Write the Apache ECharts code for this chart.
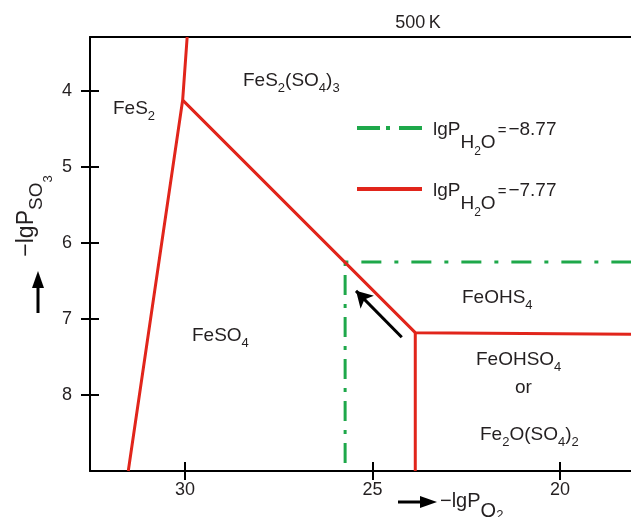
<!DOCTYPE html>
<html>
<head>
<meta charset="utf-8">
<script src="https://cdn.jsdelivr.net/npm/echarts@6/dist/echarts.min.js"></script>
<style>
  html, body { margin: 0; padding: 0; background: #fff; }
  #chart { width: 631px; height: 517px; }
</style>
</head>
<body>
<div id="chart"></div>
<script>
// axis ranges (-lgPO2 runs right to left, -lgPSO3 runs downward)
var xRange = [18.11, 32.53];
var yRange = [3.29, 9.0];
var xTicks = [20, 25, 30];
var yTicks = [4, 5, 6, 7, 8];

// boundaries for lgPH2O = -7.77 (red)
var redFeS2 = [[29.94, 3.29], [30.06, 4.12], [31.51, 9.0]];
var redSulfate = [[30.06, 4.12], [23.86, 7.18], [18.11, 7.2]];
var redHydroxy = [[23.86, 7.18], [23.86, 9.0]];

// boundaries for lgPH2O = -8.77 (green)
var greenHoriz = [[25.75, 6.25], [18.11, 6.25]];
var greenVert = [[25.73, 6.25], [25.73, 9.0]];

// shift arrow
var shiftArrow = [[24.22, 7.24], [25.44, 6.63]];

var RED = "#e1251b";
var GREEN = "#1ea84a";
var INK = "#231f20";
var FONT = "Liberation Sans";

var nameRed = "lgPH2O=-7.77";
var nameGreen = "lgPH2O=-8.77";

var chartDom = document.getElementById("chart");
var myChart = echarts.init(chartDom);
var option;

function lineSeries(name, data, color, type) {
  return {
    name: name,
    type: "line",
    data: data,
    symbol: "none",
    silent: true,
    animation: false,
    lineStyle: { color: color, width: 3, type: type || "solid" },
    itemStyle: { color: color },
  };
}

// rich styles for region labels
var labelRich = {
  m: { fontSize: 19, lineHeight: 20, verticalAlign: "top", fontFamily: FONT, fill: INK },
  s: { fontSize: 13, lineHeight: 13, verticalAlign: "top", padding: [11, 0, 0, 0], fontFamily: FONT, fill: INK },
};

function regionLabel(text, x, y) {
  return {
    type: "text",
    x: x,
    y: y,
    silent: true,
    style: { text: text, rich: labelRich, fill: INK, font: "19px " + FONT },
  };
}

option = {
  animation: false,
  grid: { left: 90, top: 37, right: 0, bottom: 46 },
  xAxis: [
    {
      type: "value",
      inverse: true,
      min: xRange[0],
      max: xRange[1],
      position: "bottom",
      axisLine: { show: true, onZero: false, lineStyle: { color: "#000", width: 2 } },
      axisTick: { show: true, length: 9, customValues: xTicks, lineStyle: { color: "#000", width: 2 } },
      axisLabel: { customValues: xTicks, margin: 10, color: INK, fontSize: 18, fontFamily: FONT },
      splitLine: { show: false },
    },
    {
      type: "value",
      inverse: true,
      min: xRange[0],
      max: xRange[1],
      position: "bottom",
      offset: 0,
      axisLine: { show: false, onZero: false },
      axisTick: { show: true, inside: true, length: 9, customValues: xTicks, lineStyle: { color: "#000", width: 2 } },
      axisLabel: { show: false },
      splitLine: { show: false },
    },
    {
      type: "value",
      inverse: true,
      min: xRange[0],
      max: xRange[1],
      position: "top",
      axisLine: { show: true, onZero: false, lineStyle: { color: "#000", width: 2 } },
      axisTick: { show: false },
      axisLabel: { show: false },
      splitLine: { show: false },
    },
  ],
  yAxis: [
    {
      type: "value",
      inverse: true,
      min: yRange[0],
      max: yRange[1],
      position: "left",
      axisLine: { show: true, onZero: false, lineStyle: { color: "#000", width: 2 } },
      axisTick: { show: true, length: 9, customValues: yTicks, lineStyle: { color: "#000", width: 2 } },
      axisLabel: { customValues: yTicks, margin: 18, color: INK, fontSize: 18, fontFamily: FONT },
      splitLine: { show: false },
    },
    {
      type: "value",
      inverse: true,
      min: yRange[0],
      max: yRange[1],
      position: "left",
      offset: 0,
      axisLine: { show: false, onZero: false },
      axisTick: { show: true, inside: true, length: 9, customValues: yTicks, lineStyle: { color: "#000", width: 2 } },
      axisLabel: { show: false },
      splitLine: { show: false },
    },
  ],
  legend: {
    data: [
      {
        name: nameGreen,
        itemStyle: { opacity: 0 },
        lineStyle: { color: GREEN, width: 4, type: [23, 6, 4, 9] },
      },
      {
        name: nameRed,
        itemStyle: { opacity: 0 },
        lineStyle: { color: RED, width: 4, type: "solid" },
      },
    ],
    orient: "vertical",
    left: 355,
    top: 118,
    padding: 0,
    itemWidth: 65,
    itemHeight: 14,
    itemGap: 21,
    selectedMode: false,
    formatter: function (name) {
      var v = name === nameGreen ? "\u22128.77" : "\u22127.77";
      return "{m|lgP}{s|H}{t|2}{s|O}{e|=}{m|" + v + "}";
    },
    textStyle: {
      color: INK,
      fontFamily: FONT,
      padding: [0, 0, 0, 6],
      rich: {
        m: { fontSize: 19, lineHeight: 20, verticalAlign: "top", padding: [2, 0, 0, 0], color: INK, fontFamily: FONT },
        s: { fontSize: 19, lineHeight: 20, verticalAlign: "top", padding: [15, 0, 0, 0], color: INK, fontFamily: FONT },
        t: { fontSize: 12, lineHeight: 12, verticalAlign: "top", padding: [28, 0, 0, 0], color: INK, fontFamily: FONT },
        e: { fontSize: 15, lineHeight: 15, verticalAlign: "top", padding: [5, 2, 0, 2], color: INK, fontFamily: FONT },
      },
    },
  },
  graphic: [
    {
      type: "text",
      x: 418,
      y: 23,
      silent: true,
      style: { text: "500\u2009K", fill: INK, font: "18px " + FONT, align: "center", verticalAlign: "middle" },
    },
    regionLabel("{m|FeS}{s|2}", 113, 99),
    regionLabel("{m|FeS}{s|2}{m|(SO}{s|4}{m|)}{s|3}", 243, 71),
    regionLabel("{m|FeSO}{s|4}", 192, 326),
    regionLabel("{m|FeOHS}{s|4}", 462, 288),
    regionLabel("{m|FeOHSO}{s|4}", 476, 350),
    regionLabel("{m|or}", 515, 378),
    regionLabel("{m|Fe}{s|2}{m|O(SO}{s|4}{m|)}{s|2}", 480, 425),
    // y axis name, rotated
    {
      type: "text",
      x: 15,
      y: 216,
      rotation: Math.PI / 2,
      silent: true,
      style: {
        text: "{m|\u2212lgP}{s|SO}{t|3}",
        align: "center",
        verticalAlign: "top",
        fill: INK,
        font: "22px " + FONT,
        rich: {
          m: { fontSize: 23, lineHeight: 24, verticalAlign: "top", fontFamily: FONT, fill: INK },
          s: { fontSize: 19, lineHeight: 20, verticalAlign: "top", padding: [12, 0, 0, 0], fontFamily: FONT, fill: INK },
          t: { fontSize: 13, lineHeight: 13, verticalAlign: "top", padding: [27, 0, 0, 0], fontFamily: FONT, fill: INK },
        },
      },
    },
    // y axis arrow
    {
      type: "line",
      silent: true,
      shape: { x1: 38, y1: 313, x2: 38, y2: 284 },
      style: { stroke: "#000", lineWidth: 3 },
    },
    {
      type: "polygon",
      silent: true,
      shape: { points: [[38, 271], [32, 288], [44, 288]] },
      style: { fill: "#000" },
    },
    // x axis arrow
    {
      type: "line",
      silent: true,
      shape: { x1: 398, y1: 502, x2: 424, y2: 502 },
      style: { stroke: "#000", lineWidth: 3 },
    },
    {
      type: "polygon",
      silent: true,
      shape: { points: [[437, 502], [420, 496], [420, 508]] },
      style: { fill: "#000" },
    },
    // x axis name
    {
      type: "text",
      x: 440,
      y: 491,
      silent: true,
      style: {
        text: "{m|\u2212lgP}{s|O}{t|2}",
        fill: INK,
        font: "20px " + FONT,
        rich: {
          m: { fontSize: 20, lineHeight: 20, verticalAlign: "top", fontFamily: FONT, fill: INK },
          s: { fontSize: 20, lineHeight: 20, verticalAlign: "top", padding: [10, 0, 0, 0], fontFamily: FONT, fill: INK },
          t: { fontSize: 13, lineHeight: 13, verticalAlign: "top", padding: [18, 0, 0, 0], fontFamily: FONT, fill: INK },
        },
      },
    },
  ],
  series: [
    lineSeries(nameGreen, greenHoriz, GREEN, [4, 13, 20, 13]),
    lineSeries(nameGreen, greenVert, GREEN, [4, 9, 20, 9]),
    lineSeries(nameRed, redFeS2, RED),
    lineSeries(nameRed, redSulfate, RED),
    lineSeries(nameRed, redHydroxy, RED),
    {
      name: "arrow",
      type: "line",
      data: [],
      silent: true,
      markLine: {
        silent: true,
        symbol: ["none", "arrow"],
        symbolSize: [14, 16],
        label: { show: false },
        lineStyle: { color: "#000", width: 3, type: "solid" },
        data: [[{ coord: shiftArrow[0] }, { coord: shiftArrow[1] }]],
      },
    },
  ],
};

option && myChart.setOption(option);
</script>
</body>
</html>
